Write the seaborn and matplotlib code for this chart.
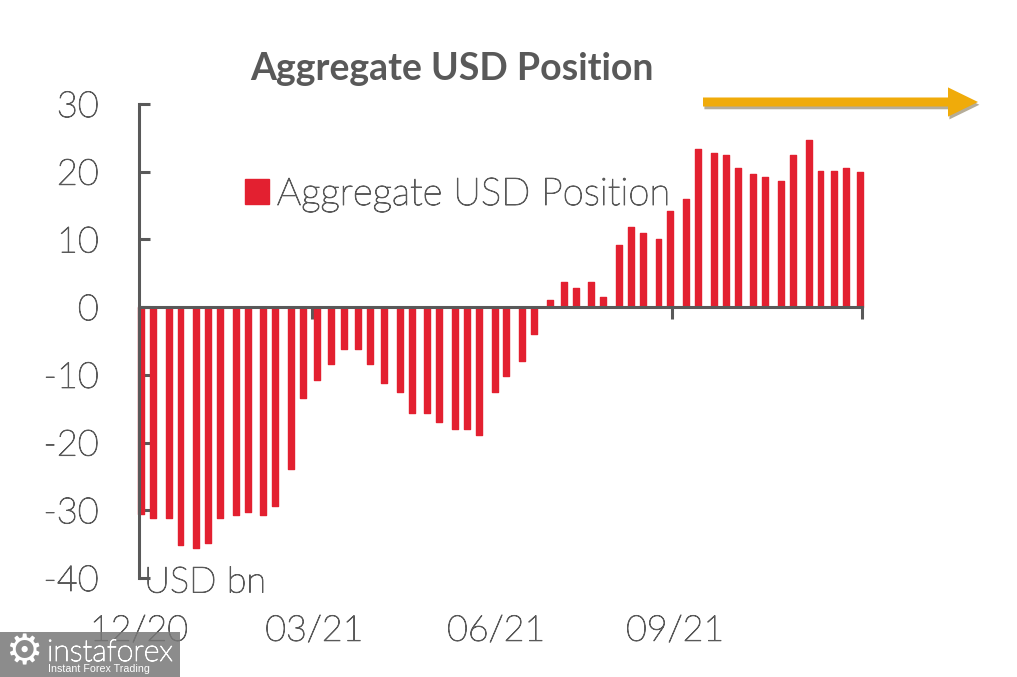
import pandas as pd
import matplotlib.pyplot as plt
import matplotlib.patheffects as pe
from matplotlib.patches import Rectangle
from matplotlib.transforms import ScaledTranslation
import seaborn as sns

# days since the start of the axis, one bar per report
days = [1, 7, 15, 21, 29, 35, 41, 49, 55, 63, 69, 77, 83, 90, 97, 104, 111, 117,
        124, 132, 138, 146, 152, 160, 166, 172, 180, 186, 194, 200, 208, 215, 221,
        229, 235, 243, 249, 255, 263, 269, 277, 283, 291, 297, 303, 311, 317, 325,
        331, 339, 345, 352, 358, 365]
position = [-30.6, -31.1, -31.1, -35.2, -35.6, -34.8, -31.1, -30.7, -30.2, -30.7,
            -29.3, -23.9, -13.4, -10.7, -8.4, -6.2, -6.2, -8.4, -11.2, -12.5,
            -15.7, -15.7, -17.0, -18.0, -18.0, -18.9, -12.5, -10.2, -8.0, -3.9,
            1.1, 3.7, 2.8, 3.7, 1.5, 9.2, 11.9, 11.0, 10.1, 14.2, 16.0, 23.3,
            22.8, 22.4, 20.5, 19.6, 19.2, 18.7, 22.4, 24.7, 20.1, 20.1, 20.5, 20.0]
tick_days = [0, 87.4, 179.4, 270, 366]
tick_labels = ['12/20', '03/21', '06/21', '09/21', '']
y_ticks = [-40, -30, -20, -10, 0, 10, 20, 30]

GREY = '#595959'
RED = '#E32030'

sns.set_theme(style='white')
plt.rcParams['font.family'] = ['Lato', 'DejaVu Sans']
plt.rcParams['axes.unicode_minus'] = False

df = pd.DataFrame({'day': days, 'value': position})

fig = plt.figure(figsize=(10.17, 6.77), dpi=100)
ax = fig.add_axes([139 / 1017, 1 - 578 / 677, 723 / 1017, 474 / 677])

sns.barplot(data=df, x='day', y='value', native_scale=True, width=0.5, color=RED,
            saturation=1, errorbar=None, label='Aggregate USD Position', ax=ax)
for bar in ax.patches:
    bar.set_edgecolor(RED)
    bar.set_linewidth(1.0)
    bar.set_joinstyle('round')
    bar.set_clip_on(False)

ax.set_xlim(0, 366)
ax.set_ylim(-40, 30)
ax.set_xlabel('')
ax.set_ylabel('')

# spines
sns.despine(ax=ax, top=True, right=True)
ax.spines['bottom'].set_position(('data', 0))
ax.spines['bottom'].set_color(GREY)
ax.spines['bottom'].set_linewidth(2.2)
ax.spines['left'].set_color(GREY)
ax.spines['left'].set_linewidth(2.2)
ax.spines['bottom'].set_zorder(5)
ax.spines['left'].set_zorder(5)

# the light font is a hairline, a thin stroke brings it to the reference weight
thicker = [pe.withStroke(linewidth=0.7, foreground=GREY)]

# ticks
ax.set_yticks(y_ticks)
ax.set_xticks(tick_days)
ax.set_xticklabels(tick_labels)
ax.tick_params(axis='y', direction='in', length=8, width=2.2, color=GREY,
               labelsize=26, labelcolor=GREY, pad=29, left=True)
ax.tick_params(axis='x', direction='out', length=8.5, width=2.2, color=GREY,
               labelsize=25.8, labelcolor=GREY, pad=213, bottom=True)
for label in ax.get_xticklabels() + ax.get_yticklabels():
    label.set_fontweight('light')
    label.set_path_effects(thicker)
for label in ax.get_xticklabels()[1:]:
    label.set_transform(label.get_transform() + ScaledTranslation(2 / 72, 0, fig.dpi_scale_trans))

fig.text(452 / 1017, 1 - 69 / 677, 'Aggregate USD Position', ha='center', va='center',
         fontsize=27, fontweight='bold', color=GREY)
fig.text(144 / 1017, 1 - 583 / 677, 'USD bn', ha='left', va='center', fontsize=26,
         fontweight='light', color=GREY, path_effects=thicker)

leg = ax.legend(loc='upper left', bbox_to_anchor=(245 / 1017, 1 - 178 / 677),
                bbox_transform=fig.transFigure, frameon=False, fontsize=27.6,
                labelcolor=GREY, handlelength=0.63, handleheight=0.63,
                handletextpad=0.2, borderpad=0, borderaxespad=0)
for text in leg.get_texts():
    text.set_fontweight('light')
    text.set_path_effects(thicker)

# orange arrow
ax.annotate('', xy=(978, 677 - 102), xytext=(703, 677 - 102),
            xycoords='figure pixels', textcoords='figure pixels', annotation_clip=False,
            arrowprops=dict(arrowstyle='simple,head_length=0.8,head_width=0.78,tail_width=0.24',
                            mutation_scale=27, color='#F0AB0A', shrinkA=0, shrinkB=0, lw=0,
                            path_effects=[pe.SimplePatchShadow(offset=(1, -2), alpha=0.4), pe.Normal()]))

# watermark
fig.add_artist(Rectangle((0, 0), 180 / 1017, 45 / 677, transform=fig.transFigure,
                         color='#787878', alpha=0.85, lw=0, zorder=10))
fig.text(5 / 1017, 1 - 652 / 677, '\u2699', family='DejaVu Sans', fontsize=30,
         color='white', ha='left', va='center', zorder=11)
fig.text(47 / 1017, 1 - 653 / 677, 'instaforex', fontsize=21.8, fontweight='light',
         color='white', ha='left', va='center', zorder=11,
         path_effects=[pe.withStroke(linewidth=0.7, foreground='white')])
fig.text(48 / 1017, 1 - 669 / 677, 'Instant Forex Trading', family='Liberation Sans',
         fontsize=7.7, color='white', ha='left', va='center', zorder=11)

fig.savefig('out.png', dpi=100)
